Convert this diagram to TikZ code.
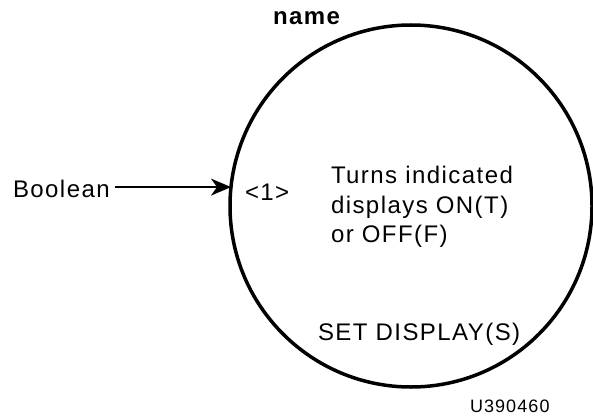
\documentclass[tikz,border=0pt]{standalone}
\usepackage{fontspec}
\setmainfont{Liberation Sans}[LetterSpace=6]
\usetikzlibrary{arrows.meta}
\tikzset{
  lbl/.style={inner sep=0pt, outer sep=0pt, anchor=base west, font=\fontsize{24pt}{29.5pt}\selectfont},
  bub/.style={circle, draw, line width=3.5pt, minimum size=362pt, inner sep=0pt, outer sep=0pt},
  flow/.style={line width=1.8pt, -{Stealth[length=20pt,width=17pt,inset=6pt]}}
}
\begin{document}
\begin{tikzpicture}[x=1pt,y=-1pt]
\useasboundingbox (0,0) rectangle (593,417);
\node[bub] (c) at (411,206) {};
\node[lbl, font=\fontsize{24pt}{29.5pt}\selectfont\bfseries] (nm) at (273,25) {name};
\node[lbl] (bool) at (13,197) {Boolean};
\node[lbl] (pin) at (245,200) {<1>};
\node[lbl] (t1) at (331,183) {Turns indicated};
\node[lbl] (t2) at (331,213) {displays ON(T)};
\node[lbl] (t3) at (331,242) {or OFF(F)};
\node[lbl] (sd) at (318,340) {SET DISPLAY(S)};
\node[lbl, font=\fontsize{18pt}{22pt}\selectfont] (fig) at (470,412) {U390460};
\draw[flow] (bool.east |- c.174.93) ++(5,0) -- (c.174.93);
\end{tikzpicture}
\end{document}
